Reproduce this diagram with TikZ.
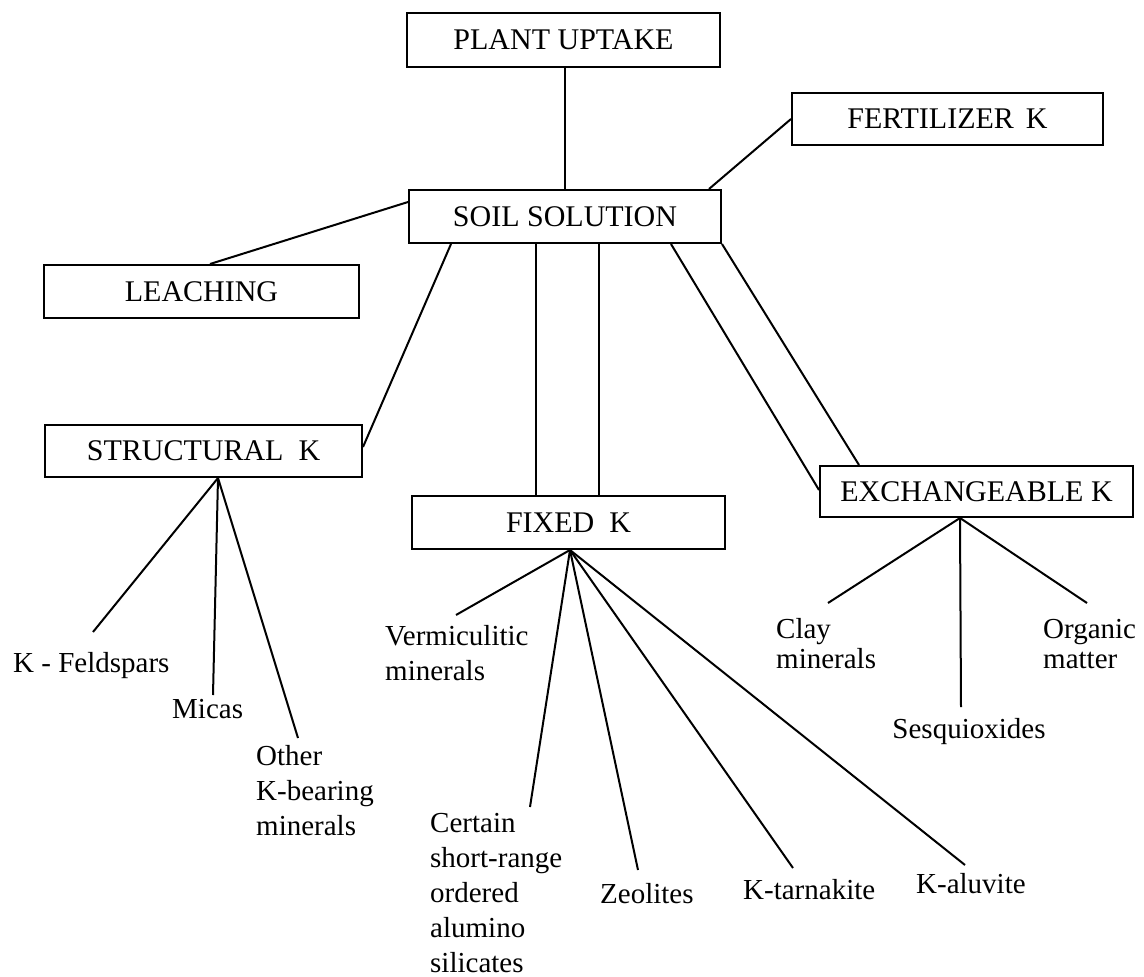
\documentclass[tikz,border=0pt]{standalone}
\usepackage{fontspec}
\setmainfont{Liberation Serif}
\newcommand{\leaftab}[1]{\begin{tabular}[t]{@{}l@{}}#1\end{tabular}}
\begin{document}
\begin{tikzpicture}[x=1pt,y=-1pt,
  box/.style={draw, line width=2pt, inner sep=0pt, fill=white, font=\fontsize{30}{36}\selectfont},
  link/.style={line width=2pt},
  leaf/.style={inner sep=0pt, anchor=base west, font=\fontsize{29}{35}\selectfont},
  leafc/.style={inner sep=0pt, anchor=base west, font=\fontsize{29}{30}\selectfont},
]
\useasboundingbox (0,0) rectangle (1144,977);
% boxes
\node[box, minimum width=313pt, minimum height=54pt] (pu) at (563.5,40) {PLANT UPTAKE};
\node[box, minimum width=311pt, minimum height=52pt] (fe) at (947.5,119) {FERTILIZER\hspace{0.4em}K};
\node[box, minimum width=312pt, minimum height=53pt] (ss) at (565,216.5) {SOIL SOLUTION};
\node[box, minimum width=315pt, minimum height=53pt] (le) at (201.5,291.5) {LEACHING};
\node[box, minimum width=317pt, minimum height=52pt] (st) at (203.5,451) {STRUCTURAL\hspace{0.5em}K};
\node[box, minimum width=313pt, minimum height=53pt] (fx) at (568.5,522.5) {FIXED\hspace{0.5em}K};
\node[box, minimum width=313pt, minimum height=51pt] (ex) at (976.5,491.5) {EXCHANGEABLE K};
% leaves
\node[leaf] (kfs) at (13,672) {K - Feldspars};
\node[leaf] (mic) at (172,718) {Micas};
\node[leaf] (oth) at (256,765) {\leaftab{Other\\K-bearing\\minerals}};
\node[leaf] (ver) at (385,645) {\leaftab{Vermiculitic\\minerals}};
\node[leaf] (cer) at (430,832) {\leaftab{Certain\\short-range\\ordered\\alumino\\silicates}};
\node[leaf] (zeo) at (600,903) {Zeolites};
\node[leaf] (ktar) at (743,899) {K-tarnakite};
\node[leaf] (kalu) at (916,893) {K-aluvite};
\node[leafc] (clay) at (776,638) {\leaftab{Clay\\minerals}};
\node[leaf, anchor=base] (ses) at (969,738) {Sesquioxides};
\node[leafc] (org) at (1043,638) {\leaftab{Organic\\matter}};
% connector end points near leaves
\coordinate (kfs-e) at (93,632);
\coordinate (mic-e) at (213,695);
\coordinate (oth-e) at (298,738);
\coordinate (ver-e) at (456,615);
\coordinate (cer-e) at (530,807);
\coordinate (zeo-e) at (638,870);
\coordinate (ktar-e) at (793,868);
\coordinate (kalu-e) at (965,865);
\coordinate (clay-e) at (828,603);
\coordinate (ses-e) at (961,707);
\coordinate (org-e) at (1087,603);
% box connectors
\draw[link] ([xshift=1.5pt]pu.south) -- (ss.north);
\draw[link] ([xshift=-13pt]ss.north east) -- (fe.west);
\draw[link] ([yshift=14.5pt]ss.west) -- ([xshift=8.5pt]le.north);
\draw[link] ([xshift=43pt]ss.south west) -- ([yshift=4pt]st.east);
\draw[link] ([xshift=128pt]ss.south west) -- ([xshift=125pt]fx.north west);
\draw[link] ([xshift=191pt]ss.south west) -- ([xshift=188pt]fx.north west);
\draw[link] ([xshift=-51pt]ss.south east) -- ([yshift=1.5pt]ex.west);
\draw[link] (ss.south east) -- ([xshift=40pt]ex.north west);
% children
\coordinate (st-b) at ([xshift=14.5pt]st.south);
\coordinate (fx-b) at ([xshift=1.5pt]fx.south);
\coordinate (ex-b) at ([xshift=-16.5pt]ex.south);
\draw[link] (st-b) -- (kfs-e);
\draw[link] (st-b) -- (mic-e);
\draw[link] (st-b) -- (oth-e);
\draw[link] (fx-b) -- (ver-e);
\draw[link] (fx-b) -- (cer-e);
\draw[link] (fx-b) -- (zeo-e);
\draw[link] (fx-b) -- (ktar-e);
\draw[link] (fx-b) -- (kalu-e);
\draw[link] (ex-b) -- (clay-e);
\draw[link] (ex-b) -- (ses-e);
\draw[link] (ex-b) -- (org-e);
\end{tikzpicture}
\end{document}
